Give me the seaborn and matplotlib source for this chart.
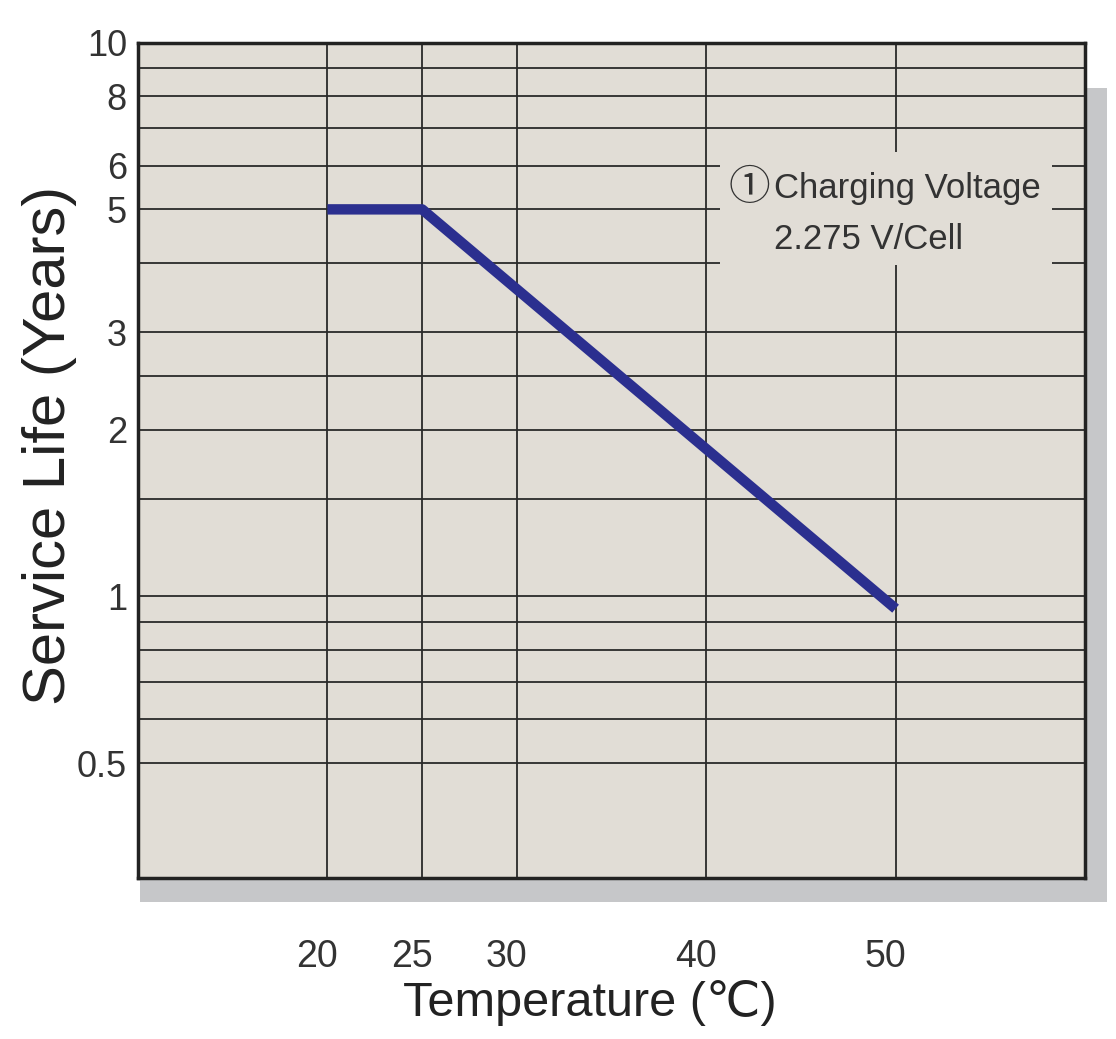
import numpy as np
import matplotlib.pyplot as plt
import matplotlib.transforms as mtransforms
from matplotlib.patches import Rectangle
from matplotlib.ticker import FixedLocator, NullFormatter
import pandas as pd
import seaborn as sns

# dane
temperature = [20, 25, 50]
service_life = [5.0, 5.0, 0.95]

x_ticks = [20, 25, 30, 40, 50]
y_ticks = [0.5, 1, 2, 3, 5, 6, 8, 10]
y_minor = [0.6, 0.7, 0.8, 0.9, 1.5, 2.5, 4, 7, 9]

df = pd.DataFrame({'temp': temperature, 'life': service_life})

sns.set_style('white')
plt.rcParams['font.family'] = ['Liberation Sans', 'DejaVu Sans', 'Noto Sans CJK JP']

bg = '#e1ddd6'
fig = plt.figure(figsize=(11.16, 10.39), dpi=100)

# cien pod wykresem
shadow = Rectangle((0.1254, 0.1319), 0.8666, 0.7834, transform=fig.transFigure,
                   facecolor='#c6c7c9', edgecolor='none', zorder=-1)
fig.add_artist(shadow)

ax = fig.add_axes([0.1237, 0.1550, 0.8485, 0.8039])
ax.set_facecolor(bg)

sns.lineplot(data=df, x='temp', y='life', ax=ax, color='#2b2f8f', linewidth=7.5,
             solid_capstyle='butt', zorder=3)

ax.set_yscale('log')
ax.set_xlim(10, 60)
ax.set_ylim(0.31, 10)

ax.xaxis.set_major_locator(FixedLocator(x_ticks))
ax.set_xticklabels([str(t) for t in x_ticks])
ax.yaxis.set_major_locator(FixedLocator(y_ticks))
ax.yaxis.set_minor_locator(FixedLocator(y_minor))
ax.yaxis.set_minor_formatter(NullFormatter())
ax.set_yticklabels(['0.5', '1', '2', '3', '5', '6', '8', '10'])

ax.set_axisbelow(True)
ax.grid(True, which='both', color='#2a2a2a', linewidth=1.3)
ax.tick_params(axis='both', which='both', length=0)
ax.tick_params(axis='x', pad=44, labelsize=27, labelcolor='#333333')
ax.tick_params(axis='y', pad=8, labelsize=26, labelcolor='#333333')
off = mtransforms.ScaledTranslation(-10 / 100, 0, fig.dpi_scale_trans)
for lab in ax.get_xticklabels():
    lab.set_transform(lab.get_transform() + off)

for s in ax.spines.values():
    s.set_color('#222222')
    s.set_linewidth(2.5)

ax.set_xlabel('Temperature (℃)', fontsize=35, color='#222222')
ax.set_ylabel('Service Life (Years)', fontsize=43, color='#222222')
ax.xaxis.set_label_coords(0.477, -0.122)
ax.yaxis.set_label_coords(-0.064, 0.518)

# ramka z opisem
ax.add_patch(Rectangle((0.6146, 0.734), 0.3504, 0.135, transform=ax.transAxes,
                       facecolor=bg, edgecolor='none', zorder=1.5))
ax.text(0.6235, 0.826, '①', transform=ax.transAxes, fontsize=30,
        family=['Noto Sans CJK JP', 'DejaVu Sans'], color='#333333',
        va='center', ha='left', zorder=4)
ax.text(0.672, 0.826, 'Charging Voltage', transform=ax.transAxes, fontsize=25,
        color='#333333', va='center', ha='left', zorder=4)
ax.text(0.672, 0.764, '2.275 V/Cell', transform=ax.transAxes, fontsize=25,
        color='#333333', va='center', ha='left', zorder=4)

fig.savefig('out.png', dpi=100, facecolor='white')
